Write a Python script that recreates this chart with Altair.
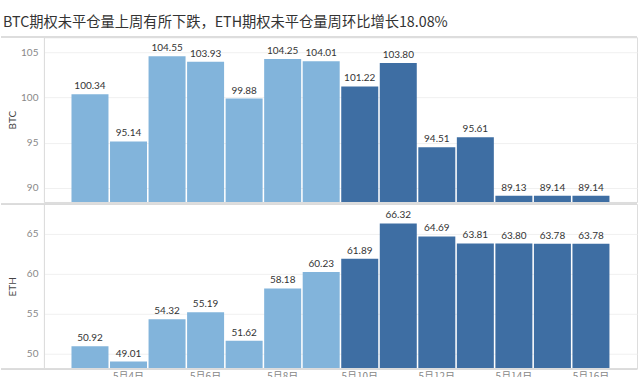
import altair as alt
import pandas as pd

dates = ["5月3日", "5月4日", "5月5日", "5月6日", "5月7日", "5月8日", "5月9日",
         "5月10日", "5月11日", "5月12日", "5月13日", "5月14日", "5月15日", "5月16日"]
week = ["前一周"] * 7 + ["上周"] * 7
btc = [100.34, 95.14, 104.55, 103.93, 99.88, 104.25, 104.01,
       101.22, 103.80, 94.51, 95.61, 89.13, 89.14, 89.14]
eth = [50.92, 49.01, 54.32, 55.19, 51.62, 58.18, 60.23,
       61.89, 66.32, 64.69, 63.81, 63.80, 63.78, 63.78]
tick_labels = ["5月4日", "5月6日", "5月8日", "5月10日", "5月12日", "5月14日", "5月16日"]
title_text = "BTC期权未平仓量上周有所下跌，ETH期权未平仓量周环比增长18.08%"

df = pd.DataFrame({"date": dates, "week": week, "BTC": btc, "ETH": eth})

W, H = 594, 165
LIGHT, DARK = "#82b4db", "#3e6ea3"
FONT = "Lato"
CJK = "Noto Sans CJK SC"

color = alt.Color("week:N", scale=alt.Scale(domain=["前一周", "上周"], range=[LIGHT, DARK]), legend=None)


def panel(field, domain, ticks, show_x):
    xaxis = alt.Axis(values=tick_labels, bandPosition=0, title=None, labelAngle=0,
                     labelFont=CJK, labelFontSize=10, labelColor="#888888", labelBaseline="top",
                     ticks=False, domain=False, labelPadding=3, grid=False) if show_x else None
    x = alt.X("date:N", sort=dates, axis=xaxis,
              scale=alt.Scale(paddingInner=0.04, paddingOuter=0.715))
    y = alt.Y(f"{field}:Q", scale=alt.Scale(domain=domain, zero=False, nice=False),
              axis=alt.Axis(values=ticks, title=field, titleAngle=270, titleX=-31, titleY=H / 2,
                            titleAlign="center", titleBaseline="middle",
                            titleFont=FONT, titleFontSize=10, titleFontWeight="normal",
                            titleColor="#444444",
                            labelFont=FONT, labelFontSize=10, labelColor="#888888",
                            labelPadding=6, ticks=False, domain=True, domainColor="#dddddd",
                            gridColor="#f0f0f0", minExtent=37, maxExtent=37))
    base = alt.Chart(df).encode(x=x, y=y)
    bars = base.mark_bar(clip=True).encode(color=color)
    labels = base.mark_text(baseline="bottom", dy=-3, font=FONT, fontSize=10, color="#333333").encode(
        text=alt.Text(f"{field}:Q", format=".2f"))
    top_rule = alt.Chart(df).mark_rule(color="#dddddd").encode(
        x=alt.value(-43), x2=alt.value(W), y=alt.value(0))
    layers = [bars, labels, top_rule]
    if show_x:
        layers.append(alt.Chart(df).mark_rule(color="#dddddd").encode(
            x=alt.value(-43), x2=alt.value(W), y=alt.value(H)))
    return alt.layer(*layers).properties(width=W, height=H)


top = panel("BTC", [88.45, 106.65], [90, 95, 100, 105], False)
bottom = panel("ETH", [48.12, 68.75], [50, 55, 60, 65], True)

chart = alt.vconcat(top, bottom, spacing=0).properties(
    title=alt.TitleParams(title_text, anchor="start", font=CJK, fontSize=14.3, fontWeight="normal",
                          color="#333333", offset=6, dx=3),
    padding={"left": 0, "top": 15, "right": 2, "bottom": 0},
).configure_view(stroke="#dddddd").configure_concat(spacing=0)

chart.save("out.html", embed_options={"renderer": "svg", "actions": False})
